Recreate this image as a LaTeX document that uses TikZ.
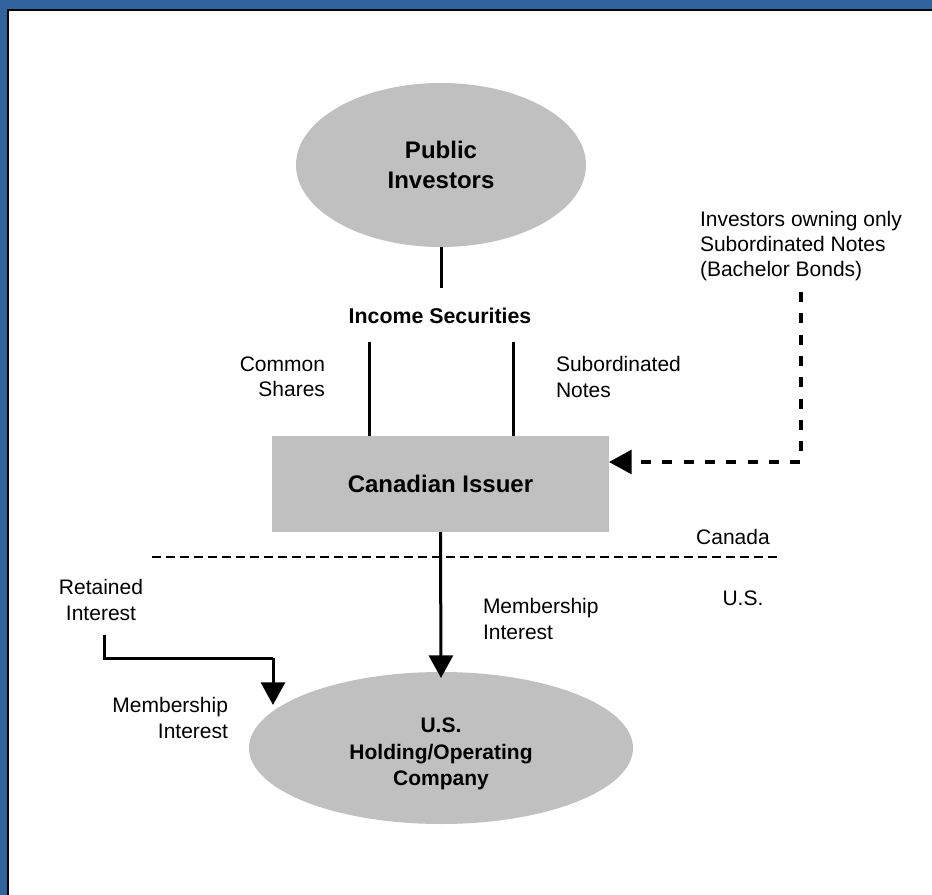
\documentclass[tikz,border=0pt]{standalone}
\usepackage{fontspec}
\setmainfont{Liberation Sans}
\usetikzlibrary{arrows.meta,shapes.geometric}
\definecolor{frameblue}{HTML}{31639C}
\definecolor{boxgray}{HTML}{C0C0C0}
\begin{document}
\begin{tikzpicture}[x=0.75pt,y=-0.75pt,
  every node/.style={inner sep=0pt,outer sep=0pt},
  grayshape/.style={fill=boxgray,draw=none},
  bigtitle/.style={font=\fontsize{18}{22}\selectfont\bfseries,align=center},
  smalltitle/.style={font=\fontsize{15.75}{20}\selectfont\bfseries,align=center},
  lbl/.style={font=\fontsize{15.75}{19}\selectfont},
  link/.style={line width=2.25pt},
  head/.style={-{Triangle[length=17pt,width=18pt]}},
  dashlink/.style={line width=2.3pt,dash pattern=on 7.5pt off 8.5pt},
  border/.style={line width=1.1pt,dash pattern=on 6.75pt off 3.75pt}]
\useasboundingbox (0,0) rectangle (932,895);
\fill[white] (0,0) rectangle (932,895);
% frame along the top and left edges
\fill[frameblue] (0,0) rectangle (932,9);
\fill[frameblue] (0,0) rectangle (7,895);
\draw[black,line width=1.4pt] (8,895) -- (8,10) -- (932,10);

% entities
\node[grayshape,ellipse,minimum width=217.5pt,minimum height=123pt,bigtitle] (pub) at (441,165) {Public\\Investors};
\node[font=\fontsize{16}{19}\selectfont\bfseries] (inc) at (440,316) {Income Securities};
\node[grayshape,rectangle,minimum width=252.75pt,minimum height=72pt,bigtitle] (iss) at (440.5,484) {Canadian Issuer};
\node[grayshape,ellipse,minimum width=288pt,minimum height=114pt] (us) at (441,748) {};
\node[smalltitle] (ustext) at (441,754) {U.S.\\Holding/Operating\\Company};

% labels
\node[lbl,align=right,anchor=east] (cs) at (325,377) {Common\\Shares};
\node[lbl,align=left,anchor=west] (sn) at (556,377) {Subordinated\\Notes};
\node[lbl,align=left,anchor=west] (bach) at (700,246) {Investors owning only\\Subordinated Notes\\(Bachelor Bonds)};
\node[lbl,anchor=center] (ca) at (733,537) {Canada};
\node[lbl,anchor=center] (usl) at (743,598) {U.S.};
\node[lbl,align=left,anchor=west] (mi) at (483,619) {Membership\\Interest};
\node[lbl,align=center] (ri) at (101,600) {Retained\\Interest};
\node[lbl,align=right,anchor=east] (mi2) at (228,718) {Membership\\Interest};

% connector end points
\coordinate (incTop) at (441,288);
\coordinate (csTop) at (369,342);
\coordinate (snTop) at (513,342);
\coordinate (bachEnd) at (801,292);
\coordinate (bordL) at (152,557);
\coordinate (bordR) at (778,557);
\coordinate (usTip) at (441,678);
\coordinate (riStart) at (104,635);
\coordinate (riBend) at (273,658);
\coordinate (riTip) at (273,705);

% connectors
\draw[link] (pub.south) -- (incTop);
\draw[link] (csTop) -- (csTop |- iss.north);
\draw[link] (snTop) -- (snTop |- iss.north);
\draw[dashlink,head] (bachEnd) |- ([yshift=16.5pt]iss.east);
\draw[border] (bordL) -- (bordR);
\draw[link,head] (iss.south) -- (usTip);
\draw[link,line join=miter] (riStart) |- (riBend);
\draw[link,head] (riBend) -- (riTip);
\end{tikzpicture}
\end{document}
